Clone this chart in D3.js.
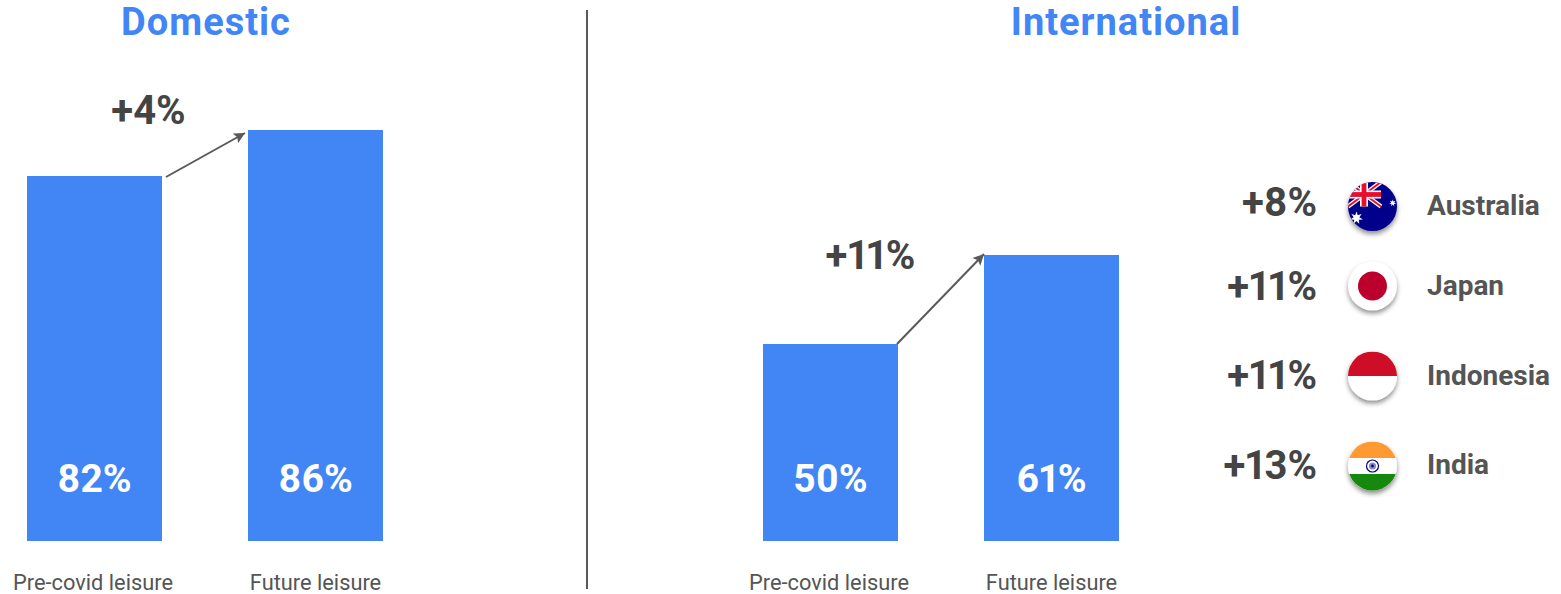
<!DOCTYPE html>
<html><head><meta charset="utf-8">
<script src="https://cdnjs.cloudflare.com/ajax/libs/d3/7.8.5/d3.min.js"></script>
<style>html,body{margin:0;background:#fff}svg{display:block}text{font-family:Roboto,sans-serif;font-variant-numeric:proportional-nums;font-feature-settings:"pnum" 1}</style>
</head><body>
<svg id="c" width="1561" height="594"></svg>
<script>
const barLabels=["Pre-covid leisure","Future leisure"];
const domesticValues=[82,86];
const internationalValues=[50,61];
const domesticDomain=[50.26,86];
const internationalDomain=[25.65,61];
const countries=["Australia","Japan","Indonesia","India"];
const countryGains=[8,11,11,13];

const svg=d3.select("#c");
const blue="#4285f4",ink="#444444",soft="#555555",rule="#595959";
const baseline=541;

svg.append("line").attr("x1",587).attr("x2",587).attr("y1",10).attr("y2",589).attr("stroke",rule).attr("stroke-width",2);

const defs=svg.append("defs");
defs.append("marker").attr("id","ah").attr("markerUnits","userSpaceOnUse").attr("viewBox","0 0 10 10").attr("refX",10).attr("refY",5)
  .attr("markerWidth",12).attr("markerHeight",11).attr("orient","auto").append("path").attr("d","M0 0L10 5L0 10L2 5Z").attr("fill",rule);
const shadow=defs.append("filter").attr("id","flagShadow").attr("x","-30%").attr("y","-30%").attr("width","160%").attr("height","170%");
shadow.append("feDropShadow").attr("dx",0).attr("dy",3).attr("stdDeviation",2.5).attr("flood-color","#000").attr("flood-opacity",0.45);

// One bar panel: title, two bars on the panel's own truncated scale, gain label and arrow.
function panel(o){
  svg.append("text").attr("x",o.titleX).attr("y",35).attr("text-anchor","middle").attr("font-size",38).attr("letter-spacing",1).attr("font-weight",700).attr("fill",blue).text(o.title);
  const x=d3.scaleBand().domain(barLabels).range([o.left,o.left+356]).paddingInner(86/221).paddingOuter(0);
  const y=d3.scaleLinear().domain(o.domain).range([baseline,o.top]);
  const g=svg.append("g");
  g.selectAll("rect").data(o.values).join("rect")
    .attr("x",(d,i)=>x(barLabels[i])).attr("y",d=>y(d)).attr("width",x.bandwidth()).attr("height",d=>baseline-y(d)).attr("fill",blue);
  g.selectAll("text.val").data(o.values).join("text").attr("class","val")
    .attr("x",(d,i)=>x(barLabels[i])+x.bandwidth()/2).attr("y",492).attr("text-anchor","middle").attr("font-size",39).attr("font-weight",700).attr("fill","#fff").text(d=>d+"%");
  g.selectAll("text.cat").data(barLabels).join("text").attr("class","cat")
    .attr("x",(d,i)=>x(d)+x.bandwidth()/2-(i?0:1.5)).attr("y",589.5).attr("text-anchor","middle").attr("font-size",21.8).attr("fill",soft).text(d=>d);
  svg.append("text").attr("x",o.gainX).attr("y",o.gainY).attr("text-anchor","middle").attr("font-size",40).attr("font-weight",700).attr("fill",ink).text("+"+(o.values[1]-o.values[0])+"%");
  svg.append("line")
    .attr("x1",x(barLabels[0])+x.bandwidth()+o.arrow[0]).attr("y1",y(o.values[0])+o.arrow[1])
    .attr("x2",x(barLabels[1])+o.arrow[2]).attr("y2",y(o.values[1])+o.arrow[3])
    .attr("stroke",rule).attr("stroke-width",2).attr("marker-end","url(#ah)");
}
panel({title:"Domestic",titleX:206,values:domesticValues,domain:domesticDomain,left:27,top:130,gainX:148.5,gainY:123.5,arrow:[4,1,-3,3]});
panel({title:"International",titleX:1126,values:internationalValues,domain:internationalDomain,left:763,top:255,gainX:870.5,gainY:268.5,arrow:[-1,0,0,-1]});

// Round flags, drawn around the origin and clipped to a circle.
const R=24.5;
defs.append("clipPath").attr("id","disc").append("circle").attr("r",R);
function star(g,cx,cy,r,n){
  const pts=d3.range(n*2).map(i=>{const a=Math.PI*i/n-Math.PI/2,q=i%2?r*0.45:r;return [cx+q*Math.cos(a),cy+q*Math.sin(a)];});
  g.append("path").attr("d",d3.line()(pts)+"Z").attr("fill","#fff");
}
const flags={
  Australia(g){
    g.append("rect").attr("x",-R).attr("y",-R).attr("width",2*R).attr("height",2*R).attr("fill","#00008b");
    [[-R,-R,8.5,0],[-R,0,8.5,-R]].forEach(s=>{
      g.append("line").attr("x1",s[0]).attr("y1",s[1]).attr("x2",s[2]).attr("y2",s[3]).attr("stroke","#fff").attr("stroke-width",4.5);
      g.append("line").attr("x1",s[0]).attr("y1",s[1]).attr("x2",s[2]).attr("y2",s[3]).attr("stroke","#e8112d").attr("stroke-width",2);
    });
    g.append("rect").attr("x",-R).attr("y",-16).attr("width",33).attr("height",8).attr("fill","#fff");
    g.append("rect").attr("x",-12.5).attr("y",-R).attr("width",8).attr("height",24.5).attr("fill","#fff");
    g.append("rect").attr("x",-R).attr("y",-14.4).attr("width",33).attr("height",4.8).attr("fill","#e8112d");
    g.append("rect").attr("x",-10.9).attr("y",-R).attr("width",4.8).attr("height",24.5).attr("fill","#e8112d");
    star(g,-16,11.5,6.5,7);
    star(g,20.2,-3.5,3.5,7);
  },
  Japan(g){
    g.append("circle").attr("r",R).attr("fill","#fff");
    g.append("circle").attr("r",14.5).attr("fill","#bc002d");
  },
  Indonesia(g){
    g.append("rect").attr("x",-R).attr("y",-R).attr("width",2*R).attr("height",2*R).attr("fill","#fff");
    g.append("rect").attr("x",-R).attr("y",-R).attr("width",2*R).attr("height",R).attr("fill","#ce1126");
  },
  India(g){
    g.append("rect").attr("x",-R).attr("y",-R).attr("width",2*R).attr("height",2*R).attr("fill","#fff");
    g.append("rect").attr("x",-R).attr("y",-R).attr("width",2*R).attr("height",16.5).attr("fill","#ff9933");
    g.append("rect").attr("x",-R).attr("y",8).attr("width",2*R).attr("height",17).attr("fill","#138808");
    g.append("circle").attr("r",6).attr("fill","#fff").attr("stroke","#000080").attr("stroke-width",1.2);
    g.append("circle").attr("r",3.6).attr("fill","#8a8ac0");
    g.append("circle").attr("r",1.4).attr("fill","#000080");
  }
};
const flagY=d3.scaleOrdinal().domain(countries).range([206.5,286,376,466]);
const gainY=d3.scaleOrdinal().domain(countries).range([216,300,389,479]);
const nameY=d3.scaleOrdinal().domain(countries).range([215,295,385,474]);
countries.forEach((c,i)=>{
  svg.append("text").attr("x",1317).attr("y",gainY(c)).attr("text-anchor","end").attr("font-size",40).attr("font-weight",700).attr("fill",ink).text("+"+countryGains[i]+"%");
  const holder=svg.append("g").attr("transform",`translate(1372.5,${flagY(c)})`).attr("filter","url(#flagShadow)");
  flags[c](holder.append("g").attr("clip-path","url(#disc)"));
  svg.append("text").attr("x",1427).attr("y",nameY(c)).attr("font-size",28).attr("font-weight",700).attr("fill",soft).text(c);
});
</script></body></html>
